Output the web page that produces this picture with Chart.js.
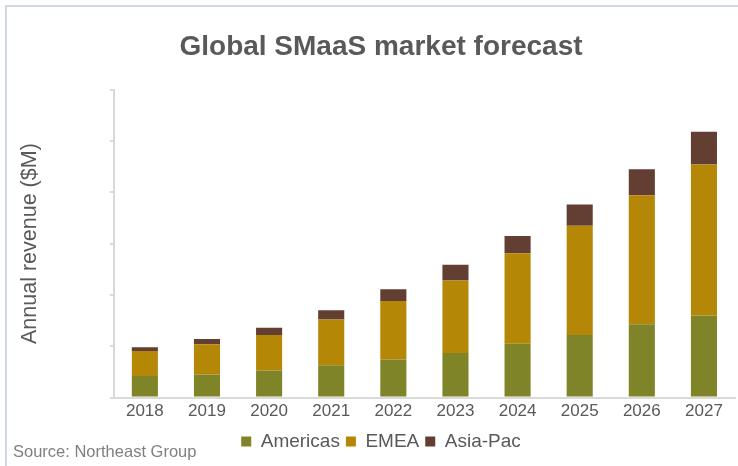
<!DOCTYPE html>
<html>
<head>
<meta charset="utf-8">
<script src="https://cdn.jsdelivr.net/npm/chart.js@4.4.1/dist/chart.umd.min.js"></script>
<style>
  html, body { margin: 0; padding: 0; background: #fff; }
  #wrap { position: relative; width: 738px; height: 466px; overflow: hidden; }
  #frame { position: absolute; left: 5px; top: 5px; width: 760px; height: 500px;
           border-left: 2px solid #cdd8e4; border-top: 2px solid #cdd8e4; }
  #source { position: absolute; left: 13px; top: 442px; font: 16.5px "Liberation Sans", Arial, sans-serif; color: #7f7f7f; }
  canvas { position: absolute; left: 0; top: 0; }
</style>
</head>
<body>
<div id="wrap">
  <div id="frame"></div>
  <canvas id="smaasChart" width="738" height="466"></canvas>
  <div id="source">Source: Northeast Group</div>
</div>
<script>
  // values ($M, axis had no labels)
  const years = ['2018', '2019', '2020', '2021', '2022', '2023', '2024', '2025', '2026', '2027'];
  const americas = [42, 45, 53, 63, 74, 87, 105, 122, 143, 160];
  const emea = [49, 59, 69, 89, 114, 141, 176, 213, 251, 294];
  const asiaPac = [7, 10, 14, 18, 23, 31, 34, 41, 51, 64];

  const textColor = '#595959';
  const fontFamily = '"Liberation Sans", Arial, sans-serif';

  const ctx = document.getElementById('smaasChart').getContext('2d');
  const smaasChart = new Chart(ctx, {
    type: 'bar',
    data: {
      labels: years,
      datasets: [
        { label: 'Americas', data: americas, backgroundColor: '#808428' },
        { label: 'EMEA', data: emea, backgroundColor: '#b48806' },
        { label: 'Asia-Pac', data: asiaPac, backgroundColor: '#633e32' }
      ]
    },
    options: {
      responsive: false,
      animation: false,
      layout: { padding: { left: 27, right: 3, top: 5, bottom: 5 } },
      datasets: {
        bar: { barPercentage: 0.42, categoryPercentage: 1.0 }
      },
      plugins: {
        title: {
          display: true,
          text: 'Global SMaaS market forecast',
          color: textColor,
          font: { family: fontFamily, size: 28, weight: 'bold' },
          padding: { top: 25, bottom: 26 }
        },
        legend: {
          position: 'bottom',
          labels: {
            color: textColor,
            font: { family: fontFamily, size: 19 },
            boxWidth: 10,
            boxHeight: 10,
            padding: 6
          }
        },
        tooltip: { enabled: false }
      },
      scales: {
        x: {
          stacked: true,
          grid: { display: false, drawTicks: false },
          border: { display: true, color: '#d9d9d9', width: 2 },
          ticks: { color: textColor, font: { family: fontFamily, size: 17 }, padding: 4 }
        },
        y: {
          stacked: true,
          min: 0,
          max: 600,
          grid: { drawOnChartArea: false, drawTicks: true, tickLength: 4, color: '#d9d9d9', lineWidth: 2 },
          border: { display: true, color: '#d9d9d9', width: 2 },
          ticks: { stepSize: 100, display: false },
          title: {
            display: true,
            text: 'Annual revenue ($M)',
            color: textColor,
            font: { family: fontFamily, size: 21.5 },
            padding: { top: -10, bottom: 67 }
          }
        }
      }
    }
  });
</script>
</body>
</html>
